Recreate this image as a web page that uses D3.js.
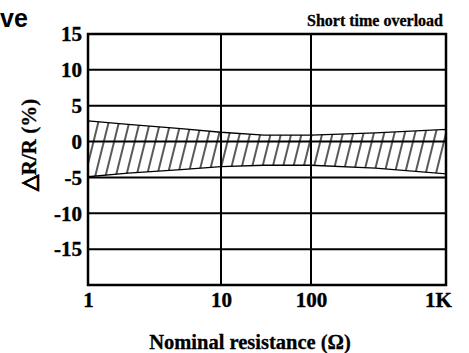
<!DOCTYPE html>
<html>
<head>
<meta charset="utf-8">
<script src="https://cdn.jsdelivr.net/npm/d3@7"></script>
<style>
  body { margin: 0; background: #fff; }
</style>
</head>
<body>
<div id="app"></div>
<script>
// values
const resistance = [1, 2, 5, 10, 30, 100, 300, 1000]
const upper = [2.9, 2.4, 1.8, 1.3, 0.9, 0.9, 1.2, 1.7]
const lower = [-4.9, -4.4, -3.9, -3.5, -3.3, -3.3, -3.7, -4.5]

const xTicks = [1, 10, 100, 1000]
const xTickLabels = ["1", "10", "100", "1K"]
const yTicks = [15, 10, 5, 0, -5, -10, -15]
const yGrid = [10, 5, 0, -5, -10, -15]

const W = 469, H = 353
const serif = "'Liberation Serif', 'Times New Roman', serif"

var svg = d3.select("#app").append("svg").attr("width", W).attr("height", H)
svg.append("rect").attr("width", W).attr("height", H).attr("fill", "#fff")

// the x axis is not evenly spaced in the picture, so use a piecewise log scale
const x = d3.scaleLog().domain([1, 10, 100, 1000]).range([88, 221, 311, 446])
const y = d3.scaleLinear().domain([-20, 15]).range([285, 34])

var defs = svg.append("defs")
var pat = defs.append("pattern")
  .attr("id", "hatch")
  .attr("patternUnits", "userSpaceOnUse")
  .attr("width", 10).attr("height", 10)
  .attr("patternTransform", "rotate(14)")
pat.append("line").attr("x1", 5).attr("y1", 0).attr("x2", 5).attr("y2", 10)
  .attr("stroke", "#000").attr("stroke-width", 1.3)

const band = resistance.map((r, i) => ({r: r, hi: upper[i], lo: lower[i]}))

const area = d3.area()
  .x(d => x(d.r))
  .y0(d => y(d.lo))
  .y1(d => y(d.hi))

svg.append("path").datum(band).attr("d", area)
  .attr("fill", "url(#hatch)").attr("stroke", "#000").attr("stroke-width", 1.3)

// grid
svg.selectAll(".hgrid").data(yGrid).enter().append("line")
  .attr("x1", x(1)).attr("x2", x(1000))
  .attr("y1", d => y(d)).attr("y2", d => y(d))
  .attr("stroke", "#000").attr("stroke-width", 2)

svg.selectAll(".vgrid").data([10, 100]).enter().append("line")
  .attr("x1", d => x(d)).attr("x2", d => x(d))
  .attr("y1", y(15)).attr("y2", y(-20))
  .attr("stroke", "#000").attr("stroke-width", 2)

svg.append("rect")
  .attr("x", x(1)).attr("y", y(15))
  .attr("width", x(1000) - x(1)).attr("height", y(-20) - y(15))
  .attr("fill", "none").attr("stroke", "#000").attr("stroke-width", 2.5)

// axes
var yAxis = svg.append("g").attr("transform", `translate(${x(1) - 6},0)`)
  .call(d3.axisLeft(y).tickValues(yTicks).tickSize(0).tickPadding(0).tickFormat(d => String(d)))
yAxis.select(".domain").remove()
yAxis.selectAll("text").attr("font-family", serif).attr("font-weight", "bold")
  .attr("font-size", 21).attr("fill", "#000")
  .attr("stroke", "#000").attr("stroke-width", 0.4)

var xAxis = svg.append("g").attr("transform", `translate(0,${y(-20) + 7})`)
  .call(d3.axisBottom(x).tickValues(xTicks).tickSize(0).tickPadding(0)
    .tickFormat((d, i) => xTickLabels[i]))
xAxis.select(".domain").remove()
xAxis.selectAll("text").attr("font-family", serif).attr("font-weight", "bold")
  .attr("font-size", 21).attr("fill", "#000")
  .attr("stroke", "#000").attr("stroke-width", 0.4)
  .attr("dx", (d, i) => i == 3 ? -8 : 0)

// titles
svg.append("text").attr("x", 250).attr("y", 349).attr("text-anchor", "middle")
  .attr("font-family", serif).attr("font-weight", "bold").attr("font-size", 20.5)
  .attr("stroke", "#000").attr("stroke-width", 0.3)
  .text("Nominal resistance (Ω)")

svg.append("text").attr("transform", "translate(36,145) rotate(-90)")
  .attr("text-anchor", "middle")
  .attr("font-family", serif).attr("font-weight", "bold").attr("font-size", 21)
  .attr("stroke", "#000").attr("stroke-width", 0.3)
  .text("△R/R (%)")

svg.append("text").attr("x", 443).attr("y", 26).attr("text-anchor", "end")
  .attr("font-family", serif).attr("font-weight", "bold").attr("font-size", 16)
  .attr("stroke", "#000").attr("stroke-width", 0.3)
  .text("Short time overload")

svg.append("text").attr("x", 0).attr("y", 27)
  .attr("font-family", "'Liberation Sans', Arial, sans-serif").attr("font-weight", "bold").attr("font-size", 25)
  .text("ve")
</script>
</body>
</html>
